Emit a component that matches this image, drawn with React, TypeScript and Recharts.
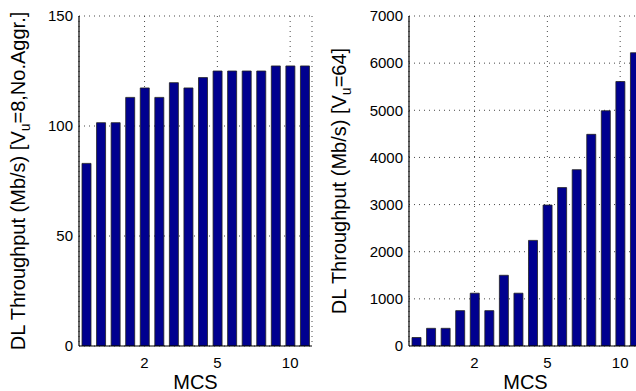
import React from 'react';
import { BarChart, Bar, XAxis, YAxis, CartesianGrid } from 'recharts';

const mcsIndex = ['1', '2', '3', '4', '5', '6', '7', '8', '9', '10', '11', '12', '13', '14', '15', '16'];
const tickIndex = ['5', '10', '15'];
const tickLabels = ['2', '5', '10'];

const leftValues = [83, 101.5, 101.5, 113, 117.3, 113, 119.7, 117.3, 122, 125, 125, 125, 125, 127.3, 127.3, 127.3];
const rightValues = [180, 375, 375, 750, 1120, 750, 1500, 1120, 2240, 2990, 3360, 3740, 4490, 4990, 5610, 6220];

const leftTicks = [0, 50, 100, 150];
const rightTicks = [0, 1000, 2000, 3000, 4000, 5000, 6000, 7000];

const FONT = '"Liberation Sans", Arial, Helvetica, sans-serif';

const leftData = mcsIndex.map((m, i) => ({ mcs: m, v: leftValues[i] }));
const rightData = mcsIndex.map((m, i) => ({ mcs: m, v: rightValues[i] }));

const fmtX = (v: string) => {
  const k = tickIndex.indexOf(String(v));
  return k >= 0 ? tickLabels[k] : '';
};

function YLabelText(props: { x: number; y: number; pre: string; post: string }) {
  const { x, y, pre, post } = props;
  return (
    <text
      x={x}
      y={y}
      transform={`rotate(-90, ${x}, ${y})`}
      textAnchor="middle"
      fontSize={20}
      fontFamily={FONT}
      fill="#000"
    >
      <tspan>{pre}</tspan>
      <tspan fontSize={14} dy={5}>u</tspan>
      <tspan dy={-5}>{post}</tspan>
    </text>
  );
}

function XLabel(props: any) {
  const { viewBox } = props;
  return (
    <text
      x={viewBox.x + viewBox.width / 2}
      y={viewBox.y + 43}
      textAnchor="middle"
      fontSize={20}
      fontFamily={FONT}
      fill="#000"
    >
      MCS
    </text>
  );
}

function Panel(props: { data: any[]; ticks: number[]; max: number }) {
  const { data, ticks, max } = props;
  const tickStyle = { fontSize: 15, fontFamily: FONT, fill: '#000' };
  return (
    <BarChart
      width={330}
      height={391}
      data={data}
      margin={{ top: 16, right: 18, left: 0, bottom: 0 }}
      barSize={9}
    >
      <CartesianGrid stroke="#333" strokeDasharray="1 4" strokeWidth={0.9} />
      <XAxis
        dataKey="mcs"
        type="category"
        ticks={tickIndex}
        interval={0}
        tickFormatter={fmtX}
        tick={tickStyle}
        tickLine={false}
        tickSize={0}
        tickMargin={11}
        height={45}
        axisLine={{ stroke: '#000', strokeWidth: 1.2 }}
        label={<XLabel />}
      />
      <XAxis
        xAxisId="top"
        dataKey="mcs"
        orientation="top"
        tick={false}
        tickLine={false}
        height={0}
        axisLine={{ stroke: '#000', strokeWidth: 1.2 }}
      />
      <YAxis
        domain={[0, max]}
        ticks={ticks}
        interval={0}
        tick={tickStyle}
        tickLine={false}
        tickSize={0}
        tickMargin={6}
        width={79}
        allowDataOverflow
        axisLine={{ stroke: '#000', strokeWidth: 1.2 }}
      />
      <YAxis
        yAxisId="right"
        orientation="right"
        domain={[0, max]}
        tick={false}
        tickLine={false}
        width={0}
        axisLine={{ stroke: '#000', strokeWidth: 1.2 }}
      />
      <Bar dataKey="v" fill="#00008f" stroke="#222" strokeWidth={0.8} isAnimationActive={false} />
    </BarChart>
  );
}

export default function App() {
  return (
    <div
      style={{
        position: 'absolute',
        left: 0,
        top: 0,
        width: 636,
        height: 391,
        overflow: 'hidden',
        background: '#fff',
      }}
    >
      <div style={{ position: 'absolute', left: 0, top: 0 }}>
        <Panel data={leftData} ticks={leftTicks} max={150} />
      </div>
      <div style={{ position: 'absolute', left: 330, top: 0 }}>
        <Panel data={rightData} ticks={rightTicks} max={7000} />
      </div>
      <svg
        width={636}
        height={391}
        style={{ position: 'absolute', left: 0, top: 0, pointerEvents: 'none' }}
      >
        <YLabelText x={25} y={181} pre="DL Throughput (Mb/s) [V" post="=8,No.Aggr.]" />
        <YLabelText x={346} y={181} pre="DL Throughput (Mb/s) [V" post="=64]" />
      </svg>
    </div>
  );
}
